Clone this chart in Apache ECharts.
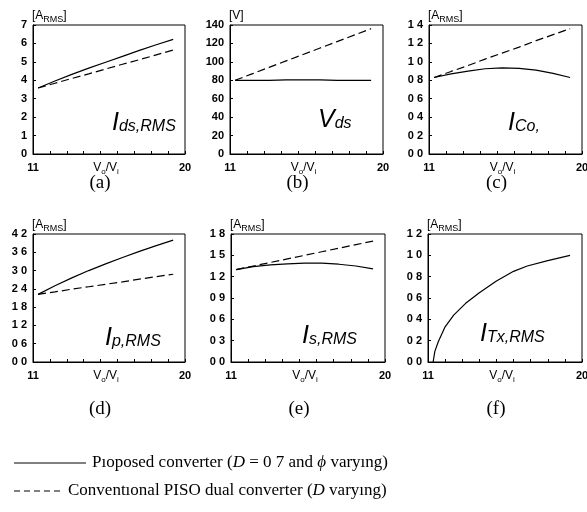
<!DOCTYPE html>
<html>
<head>
<meta charset="utf-8">
<script src="https://cdn.jsdelivr.net/npm/echarts@6/dist/echarts.min.js"></script>
<style>
html,body{margin:0;padding:0;background:#fff;}
#chart{width:587px;height:512px;}
</style>
</head>
<body>
<div id="chart"></div>
<script>
// ---- data ----
const xValues = [11.3, 12.3, 13.3, 14.3, 15.3, 16.3, 17.3, 18.3, 19.3];
const xTx = [11.3, 11.4, 11.6, 12.0, 12.5, 13.2, 14.0, 15.0, 16.0, 16.8, 18.0, 19.3];
const xTickLabels = ['11', '20'];

const idsProposed     = [3.58, 3.96, 4.32, 4.66, 4.98, 5.30, 5.62, 5.93, 6.22];
const idsConventional = [3.58, 3.84, 4.10, 4.35, 4.61, 4.87, 5.12, 5.38, 5.64];
const vdsProposed     = [80, 80, 80, 80.5, 80.5, 80.5, 80, 80, 80];
const vdsConventional = [80, 87, 94, 101, 108, 115, 122, 129, 136];
const icoProposed     = [0.83, 0.87, 0.90, 0.925, 0.935, 0.93, 0.91, 0.875, 0.83];
const icoConventional = [0.83, 0.896, 0.96, 1.03, 1.095, 1.16, 1.23, 1.295, 1.36];
const ipProposed      = [2.22, 2.50, 2.76, 3.00, 3.22, 3.43, 3.63, 3.82, 4.00];
const ipConventional  = [2.22, 2.30, 2.39, 2.47, 2.55, 2.63, 2.72, 2.80, 2.88];
const isProposed      = [1.30, 1.34, 1.365, 1.38, 1.39, 1.39, 1.375, 1.35, 1.31];
const isConventional  = [1.30, 1.35, 1.40, 1.45, 1.50, 1.55, 1.60, 1.65, 1.70];
const itxProposed     = [0.0, 0.10, 0.19, 0.33, 0.44, 0.55, 0.65, 0.76, 0.85, 0.90, 0.95, 1.00];

const yTicksA = ['0','1','2','3','4','5','6','7'];
const yTicksB = ['0','20','40','60','80','100','120','140'];
const yTicksC = ['0 0','0 2','0 4','0 6','0 8','1 0','1 2','1 4'];
const yTicksD = ['0 0','0 6','1 2','1 8','2 4','3 0','3 6','4 2'];
const yTicksE = ['0 0','0 3','0 6','0 9','1 2','1 5','1 8'];
const yTicksF = ['0 0','0 2','0 4','0 6','0 8','1 0','1 2'];

const units = ['[A{s|RMS}]', '[V]', '[A{s|RMS}]', '[A{s|RMS}]', '[A{s|RMS}]', '[A{s|RMS}]'];
const letters = ['(a)','(b)','(c)','(d)','(e)','(f)'];
const names = [
  ['I','ds,RMS'], ['V','ds'], ['I','Co,'], ['I','p,RMS'], ['I','s,RMS'], ['I','Tx,RMS']
];
const legendProposed = '{n|Pıoposed converter (}{i|D}{n| = 0 7 and }{i|ϕ}{n| varyıng)}';
const legendConventional = '{n|Conventıonal PISO dual converter (}{i|D}{n| varyıng)}';

// ---- layout ----
const panels = [
  {g:{left:33, top:25, width:152, height:129}, max:7,   step:1,   ticks:yTicksA, x:xValues, p:idsProposed, c:idsConventional, nameAt:[112,123]},
  {g:{left:230,top:25, width:153, height:129}, max:140, step:20,  ticks:yTicksB, x:xValues, p:vdsProposed, c:vdsConventional, nameAt:[318,120]},
  {g:{left:429,top:25, width:153, height:129}, max:1.4, step:0.2, ticks:yTicksC, x:xValues, p:icoProposed, c:icoConventional, nameAt:[508,123]},
  {g:{left:33, top:234,width:152, height:128}, max:4.2, step:0.6, ticks:yTicksD, x:xValues, p:ipProposed,  c:ipConventional,  nameAt:[105,338]},
  {g:{left:231,top:234,width:154, height:128}, max:1.8, step:0.3, ticks:yTicksE, x:xValues, p:isProposed,  c:isConventional,  nameAt:[302,336]},
  {g:{left:428,top:234,width:154, height:128}, max:1.2, step:0.2, ticks:yTicksF, x:xTx,     p:itxProposed, c:null,            nameAt:[480,334]}
];

const grid = [], xAxis = [], yAxis = [], series = [], graphic = [];
const tickFont = {fontFamily:'Liberation Sans', fontSize:11, fontWeight:'bold', color:'#000'};

panels.forEach((pn, i) => {
  grid.push(Object.assign({show:true, borderColor:'#000', borderWidth:1, containLabel:false, outerBoundsMode:'none'}, pn.g));
  xAxis.push({
    type:'value', gridIndex:i, min:11, max:20, interval:1,
    axisLine:{show:true, lineStyle:{color:'#000', width:1}},
    axisTick:{show:true, inside:true, length:3, lineStyle:{color:'#000'}},
    splitLine:{show:false},
    axisLabel:Object.assign({margin:8, showMinLabel:true, showMaxLabel:true,
      formatter:(v)=> Math.abs(v-11)<1e-6 ? xTickLabels[0] : (Math.abs(v-20)<1e-6 ? xTickLabels[1] : '')}, tickFont)
  });
  yAxis.push({
    type:'value', gridIndex:i, min:0, max:pn.max, interval:pn.step,
    axisLine:{show:true, lineStyle:{color:'#000', width:1}},
    axisTick:{show:true, inside:true, length:3, lineStyle:{color:'#000'}},
    splitLine:{show:false},
    axisLabel:Object.assign({margin:6, formatter:(v)=> pn.ticks[Math.round(v/pn.step)]}, tickFont)
  });
  series.push({
    type:'line', xAxisIndex:i, yAxisIndex:i, showSymbol:false, silent:true,
    data: pn.x.map((xv, k) => [xv, pn.p[k]]),
    lineStyle:{color:'#000', width:1.2, type:'solid'}
  });
  if (pn.c) {
    series.push({
      type:'line', xAxisIndex:i, yAxisIndex:i, showSymbol:false, silent:true,
      data: pn.x.map((xv, k) => [xv, pn.c[k]]),
      lineStyle:{color:'#000', width:1.2, type:[8,4]}
    });
  }
  const L = pn.g.left, T = pn.g.top, W = pn.g.width, H = pn.g.height;
  // unit label
  graphic.push({type:'text', x:L-1, y:T-9, style:{
    text:units[i], fill:'#000', font:'12px "Liberation Sans"', align:'left', verticalAlign:'middle',
    rich:{s:{fontSize:9, fontFamily:'Liberation Sans', verticalAlign:'top', padding:[5,0,0,0], lineHeight:9}}
  }});
  // x axis name
  graphic.push({type:'text', x:L+W/2-3, y:T+H+14, style:{
    text:'V{s|o}/V{s|i}', fill:'#000', font:'12px "Liberation Sans"', align:'center', verticalAlign:'middle',
    rich:{s:{fontSize:8, fontFamily:'Liberation Sans', verticalAlign:'top', padding:[6,0,0,0], lineHeight:8}}
  }});
  // panel letter
  graphic.push({type:'text', x:L+W/2-9, y:T+H+ (i<3 ? 29 : 47), style:{
    text:letters[i], fill:'#000', font:'19px "Liberation Serif"', align:'center', verticalAlign:'middle'
  }});
  // quantity name
  graphic.push({type:'text', x:pn.nameAt[0], y:pn.nameAt[1], style:{
    text:'{m|'+names[i][0]+'}{s|'+names[i][1]+'}', fill:'#000', align:'left', verticalAlign:'middle',
    rich:{
      m:{fontSize:25, fontStyle:'italic', fontFamily:'Liberation Sans', lineHeight:25, verticalAlign:'top'},
      s:{fontSize:16, fontStyle:'italic', fontFamily:'Liberation Sans', lineHeight:16, verticalAlign:'top', padding:[8,0,0,0]}
    }
  }});
});

// legend
graphic.push({type:'line', shape:{x1:14, y1:463, x2:86, y2:463}, style:{stroke:'#000', lineWidth:1}});
graphic.push({type:'text', x:92, y:463, style:{
  text:legendProposed, fill:'#000', align:'left', verticalAlign:'middle',
  rich:{n:{fontSize:17, fontFamily:'Liberation Serif'}, i:{fontSize:17, fontFamily:'Liberation Serif', fontStyle:'italic'}}
}});
graphic.push({type:'line', shape:{x1:14, y1:491, x2:64, y2:491}, style:{stroke:'#000', lineWidth:1, lineDash:[6,4]}});
graphic.push({type:'text', x:68, y:491, style:{
  text:legendConventional, fill:'#000', align:'left', verticalAlign:'middle',
  rich:{n:{fontSize:17, fontFamily:'Liberation Serif'}, i:{fontSize:17, fontFamily:'Liberation Serif', fontStyle:'italic'}}
}});

const chart = echarts.init(document.getElementById('chart'), null, {renderer:'canvas'});
chart.setOption({animation:false, backgroundColor:'#fff', grid, xAxis, yAxis, series, graphic});
</script>
</body>
</html>
